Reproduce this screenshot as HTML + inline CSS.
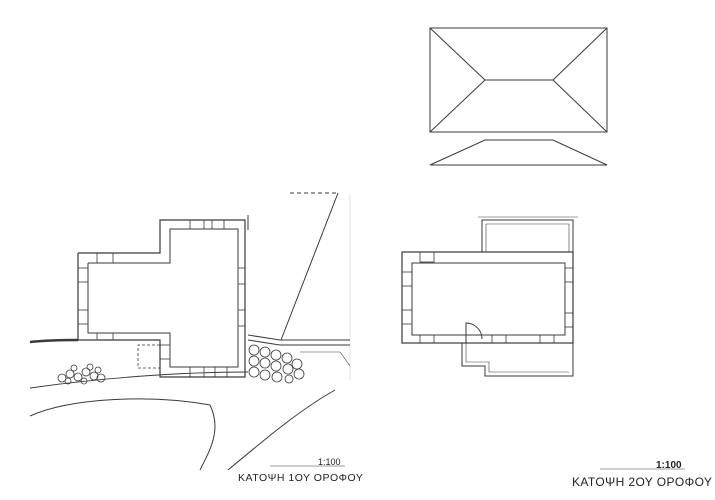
<!DOCTYPE html>
<html><head><meta charset="utf-8"><style>
html,body{margin:0;padding:0;background:#fff;}
svg{display:block;}
text{font-family:"Liberation Sans",sans-serif;fill:#222;}
</style></head><body>
<svg width="715" height="500" viewBox="0 0 715 500" xmlns="http://www.w3.org/2000/svg">
<g fill="none" stroke="#3a3a3a" stroke-width="1">
<!-- roof plan -->
<rect x="430" y="28" width="177" height="104"/>
<line x1="430" y1="28" x2="485" y2="80"/>
<line x1="430" y1="132" x2="485" y2="80"/>
<line x1="607" y1="28" x2="553" y2="80"/>
<line x1="607" y1="132" x2="553" y2="80"/>
<line x1="485" y1="80" x2="553" y2="80"/>
<!-- roof elevation -->
<polygon points="430,165 607,165 553,140 485,140"/>

<!-- left building outer -->
<polyline points="78,253 160,253 160,220 245,220 245,377 160,377 160,340 78,340 78,253" stroke-width="1.2"/>
<polyline points="88,263 170,263 170,229 238,229 238,367 170,367 170,333 88,333 88,263"/>
<line x1="248" y1="215" x2="248" y2="230"/>
<!-- windows left building -->
<g stroke-width="0.8">
<rect x="97" y="253" width="16" height="10"/>
<rect x="190" y="220" width="14" height="9"/><rect x="212" y="220" width="12" height="9"/>
<rect x="78" y="268" width="10" height="14"/><rect x="78" y="310" width="10" height="14"/>
<rect x="238" y="268" width="7" height="16"/><rect x="238" y="310" width="7" height="16"/>
<rect x="97" y="333" width="16" height="7"/><rect x="190" y="367" width="14" height="10"/><rect x="215" y="367" width="12" height="10"/>
<rect x="160" y="345" width="10" height="14"/>
</g>
<polyline points="160,345 138,345 138,368 160,368" stroke-dasharray="3,2" stroke-width="0.8"/>
<!-- terrain lines -->
<path d="M30,342 C50,340 65,340 78,340" stroke-width="2.5"/>
<path d="M290,193 L337,193" stroke-dasharray="4,3"/>
<line x1="338" y1="193" x2="281" y2="340"/>
<line x1="350" y1="195" x2="350" y2="380" stroke-width="0.3" stroke="#999"/>
<path d="M248,335 L280,340 L350,340 M248,340 L280,345 L350,345"/>
<path d="M300,352 L340,352 L350,366" stroke-width="0.6"/>
<path d="M30,388 C100,378 180,372 248,372" stroke-width="0.9"/>
<path d="M30,416 C70,398 150,394 210,405 C222,430 210,450 200,470"/>
<path d="M228,470 C270,435 300,410 335,390"/>
<!-- stones -->
<g stroke-width="0.8">
<circle cx="62" cy="378" r="4"/><circle cx="70" cy="374" r="4"/><circle cx="78" cy="377" r="4"/><circle cx="86" cy="372" r="4"/><circle cx="94" cy="376" r="4"/><circle cx="101" cy="378" r="4"/><circle cx="74" cy="368" r="3"/><circle cx="90" cy="367" r="3"/><circle cx="98" cy="370" r="3"/><circle cx="68" cy="381" r="3"/><circle cx="84" cy="381" r="3"/>
<circle cx="254" cy="350" r="5"/><circle cx="265" cy="352" r="5"/><circle cx="276" cy="355" r="5"/><circle cx="287" cy="358" r="5"/><circle cx="297" cy="364" r="5"/>
<circle cx="254" cy="361" r="5"/><circle cx="265" cy="363" r="5"/><circle cx="276" cy="366" r="5"/><circle cx="288" cy="369" r="5"/><circle cx="299" cy="374" r="5"/>
<circle cx="254" cy="372" r="5"/><circle cx="265" cy="375" r="5"/><circle cx="277" cy="377" r="5"/><circle cx="289" cy="379" r="4"/>
</g>

<!-- right building -->
<rect x="402" y="252" width="171" height="91" stroke-width="1.2"/>
<rect x="412" y="263" width="153" height="72"/>
<polyline points="482,252 482,220 573,220 573,252"/>
<polyline points="486,252 486,224 569,224 569,252" stroke-width="0.6"/>
<line x1="478" y1="217" x2="578" y2="217" stroke-width="0.5"/>
<polyline points="462,343 462,366 485,366 485,376 573,376 573,343"/>
<polyline points="466,343 466,362 489,362 489,372 569,372" stroke-width="0.6"/>
<path d="M466,343 L466,323 A16,16 0 0 1 482,339"/>
<g stroke-width="0.8">
<rect x="420" y="252" width="14" height="10"/><rect x="402" y="272" width="10" height="14"/><rect x="402" y="310" width="10" height="14"/>
<rect x="565" y="268" width="8" height="14"/><rect x="565" y="313" width="8" height="14"/>
<rect x="420" y="335" width="14" height="8"/><rect x="492" y="335" width="14" height="8"/><rect x="540" y="335" width="14" height="8"/>
</g>
<!-- scale lines -->
<line x1="270" y1="466" x2="345" y2="466" stroke-width="0.5"/>
<line x1="600" y1="469" x2="685" y2="469" stroke-width="0.5"/>
</g>
<text x="318" y="465" font-size="9">1:100</text>
<text x="238" y="481" font-size="10.5" letter-spacing="0.5">ΚΑΤΟΨΗ 1ΟΥ ΟΡΟΦΟΥ</text>
<text x="656" y="468" font-size="10" font-weight="bold">1:100</text>
<text x="572" y="486" font-size="12" letter-spacing="0.4">ΚΑΤΟΨΗ 2ΟΥ ΟΡΟΦΟΥ</text>
</svg>
</body></html>
